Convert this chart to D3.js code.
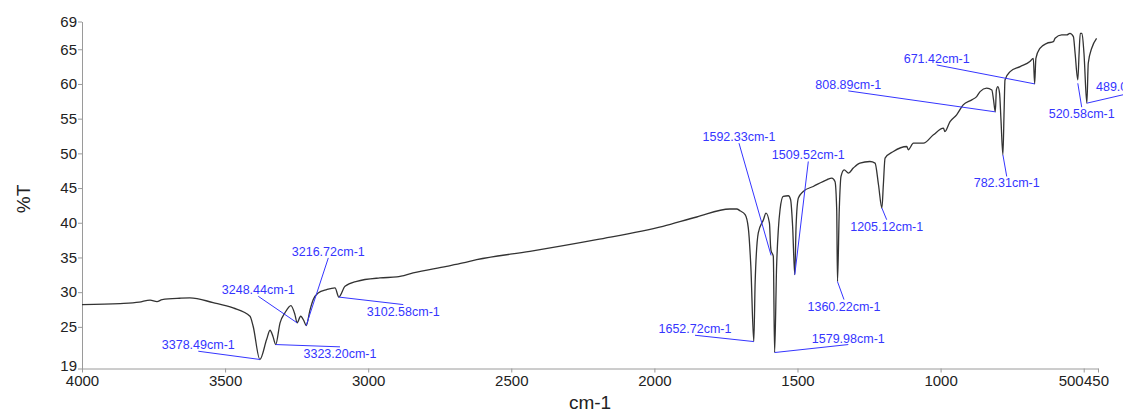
<!DOCTYPE html>
<html>
<head>
<meta charset="utf-8">
<script src="https://cdn.jsdelivr.net/npm/d3@7"></script>
<style>
  html, body { margin: 0; padding: 0; background: #fff; }
  svg { display: block; overflow: visible; }
  text { font-family: "Liberation Sans", Arial, sans-serif; }
</style>
</head>
<body>
<svg id="chart" width="1123" height="410"></svg>
<script>
// ---- Data ----
const wavenumber = [4000, 3867, 3800, 3762, 3738, 3720, 3658, 3623, 3542, 3472, 3413, 3402, 3378.49, 3355, 3343, 3333, 3323.2, 3308, 3291, 3270, 3256, 3248.44, 3236, 3224, 3216.72, 3203, 3192, 3175, 3145, 3116, 3102.58, 3081, 3040, 2959, 2900, 2843, 2726, 2669, 2621, 2435, 2202, 1970, 1852, 1736, 1712, 1701, 1683, 1672, 1663, 1652.72, 1648, 1637, 1619, 1610, 1598, 1594, 1592.33, 1584.5, 1579.98, 1573, 1567, 1561, 1550, 1532, 1524, 1517, 1509.52, 1505, 1497, 1480, 1445, 1398, 1380, 1369, 1363, 1360.22, 1354, 1348, 1337, 1322, 1305, 1282, 1247, 1229, 1217, 1205.12, 1200, 1194, 1165, 1118, 1113, 1095, 1060, 1025, 990, 985, 967, 944, 921, 891, 874, 862, 839, 821, 815, 808.89, 805, 800, 794, 789, 782.31, 778, 775, 757, 722, 688, 676, 671.42, 667, 653, 629, 606, 600, 577, 559, 548, 536, 530, 520.58, 516, 512, 506, 499, 489.0, 484, 472, 455];
const transmittance = [28.21, 28.35, 28.55, 28.86, 28.64, 28.93, 29.12, 29.17, 28.50, 27.73, 26.53, 25.09, 20.3, 23.17, 24.51, 23.65, 22.45, 25.58, 27.01, 28.07, 26.77, 25.58, 26.53, 25.81, 25.19, 27.49, 28.93, 29.89, 30.37, 30.61, 29.29, 30.84, 31.56, 32.05, 32.19, 32.77, 33.72, 34.21, 34.68, 35.88, 37.56, 39.47, 40.83, 41.98, 41.98, 41.73, 41.16, 39.29, 33.72, 22.88, 31.37, 38.53, 40.44, 41.40, 39.96, 36.6, 36.0, 35.16, 21.3, 33.72, 39.0, 41.88, 43.79, 43.89, 43.32, 39.47, 32.52, 39.47, 43.56, 44.51, 45.23, 46.19, 46.44, 45.95, 41.88, 31.52, 41.88, 46.67, 47.63, 47.16, 47.88, 48.60, 48.83, 48.60, 45.48, 42.12, 45.48, 49.32, 50.27, 50.99, 50.51, 51.47, 51.47, 52.67, 53.63, 53.14, 54.58, 55.55, 56.99, 57.71, 58.18, 58.90, 59.39, 59.14, 57.70, 55.98, 59.14, 59.62, 58.67, 54.82, 49.79, 56.27, 60.58, 61.78, 62.50, 63.22, 63.70, 60.01, 63.70, 65.14, 65.86, 66.09, 66.58, 67.06, 67.06, 67.30, 66.82, 64.42, 60.58, 64.47, 67.30, 67.30, 64.42, 57.23, 62.99, 65.14, 66.58];

const xTicks = [4000, 3500, 3000, 2500, 2000, 1500, 1000, 500, 450];
const yTicks = [69, 65, 60, 55, 50, 45, 40, 35, 30, 25, 19];
const xTitle = "cm-1";
const yTitle = "%T";

// Peak annotations: peak position, label text anchor (in data units), side of text
const peakText  = ["3378.49cm-1", "3323.20cm-1", "3248.44cm-1", "3216.72cm-1", "3102.58cm-1", "1652.72cm-1", "1579.98cm-1", "1592.33cm-1", "1509.52cm-1", "1360.22cm-1", "1205.12cm-1", "808.89cm-1", "782.31cm-1", "671.42cm-1", "520.58cm-1", "489.03cm-1"];
const peakWn    = [3378.49, 3323.20, 3248.44, 3216.72, 3102.58, 1652.72, 1579.98, 1592.33, 1509.52, 1360.22, 1205.12, 808.89, 782.31, 671.42, 520.58, 489.0];
const peakT     = [20.3, 22.45, 25.58, 25.19, 29.29, 22.88, 21.3, 35.3, 32.52, 31.52, 42.12, 55.98, 49.79, 60.01, 60.1, 57.23];
const labelWn   = [3593.6, 3098.5, 3384.0, 3139.4, 2877.4, 1858.1, 1322.5, 1704.4, 1462.2, 1337.5, 1188.3, 1322.5, 768.9, 1013.6, 506.9, 341.7];
const labelT    = [21.49, 22.12, 29.40, 34.93, 28.21, 23.79, 22.45, 51.47, 48.83, 28.93, 40.44, 59.0, 46.67, 62.74, 56.65, 58.64];
const labelSide = ["above", "below", "above", "above", "below", "above", "above", "above", "above", "below", "below", "above", "below", "above", "below", "above"];

// ---- Chart ----
const svg = d3.select("#chart");
const x = d3.scaleLinear().domain([4000, 450]).range([82, 1098]);
const y = d3.scaleLinear().domain([19, 69]).range([368.5, 21.5]);

const axisColor = "#9a9a9a";
const tickTextColor = "#222";
const blue = "#3535ff";

// X axis
const gx = svg.append("g")
  .attr("transform", `translate(0,${y(19)})`)
  .call(d3.axisBottom(x).tickValues(xTicks).tickFormat(d3.format("d")).tickSize(4).tickSizeOuter(0).tickPadding(3));
gx.select(".domain").attr("stroke", axisColor);
gx.selectAll(".tick line").attr("stroke", axisColor);
gx.selectAll(".tick text")
  .attr("fill", tickTextColor)
  .style("font-size", "15px")
  .attr("dx", d => d === 500 ? -13 : (d === 450 ? -2 : 0));

// Y axis
const gy = svg.append("g")
  .attr("transform", `translate(${x(4000)},0)`)
  .call(d3.axisLeft(y).tickValues(yTicks).tickFormat(d3.format("d")).tickSize(4).tickSizeOuter(0).tickPadding(1));
gy.select(".domain").attr("stroke", axisColor);
gy.selectAll(".tick line").attr("stroke", axisColor);
gy.selectAll(".tick text")
  .attr("fill", tickTextColor)
  .style("font-size", "15px")
  .attr("dy", d => d === 19 ? "0.12em" : "0.32em");

// Axis titles
svg.append("text")
  .attr("x", 590).attr("y", 409)
  .attr("text-anchor", "middle")
  .attr("fill", tickTextColor)
  .style("font-size", "19px")
  .text(xTitle);

svg.append("text")
  .attr("transform", "translate(30,199) rotate(-90)")
  .attr("text-anchor", "middle")
  .attr("fill", tickTextColor)
  .style("font-size", "19px")
  .text(yTitle);

// Spectrum line
const series = wavenumber.map((w, i) => ({ w, t: transmittance[i] }));
const line = d3.line().x(d => x(d.w)).y(d => y(d.t)).curve(d3.curveMonotoneX);
svg.append("path")
  .datum(series)
  .attr("d", line)
  .attr("fill", "none")
  .attr("stroke", "#333")
  .attr("stroke-width", 1.3)
  .attr("stroke-linejoin", "round");

// Peak labels
const peaks = peakText.map((t, i) => ({
  text: t, pw: peakWn[i], pt: peakT[i], lw: labelWn[i], lt: labelT[i], side: labelSide[i]
}));
const gl = svg.append("g");
gl.selectAll("line").data(peaks).join("line")
  .attr("x1", d => x(d.pw)).attr("y1", d => y(d.pt))
  .attr("x2", d => x(d.lw)).attr("y2", d => y(d.lt))
  .attr("stroke", blue).attr("stroke-width", 1);
gl.selectAll("text").data(peaks).join("text")
  .attr("x", d => x(d.lw))
  .attr("y", d => d.side === "above" ? y(d.lt) - 2 : y(d.lt) + 11)
  .attr("text-anchor", "middle")
  .attr("fill", blue)
  .style("font-size", "12.5px")
  .text(d => d.text);
</script>
</body>
</html>
